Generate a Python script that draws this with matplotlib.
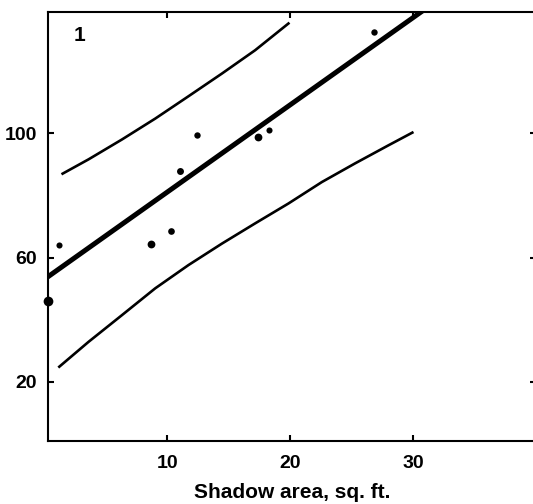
import matplotlib
matplotlib.use("Agg")
import matplotlib.pyplot as plt

plt.rcParams['font.family'] = ['Liberation Sans', 'DejaVu Sans']

# observed points (shadow area, value)
pts_x = [1.2, 8.7, 10.3, 11.0, 12.4, 17.4, 18.3, 26.8]
pts_y = [64.0, 64.3, 68.5, 87.8, 99.4, 98.7, 101.0, 132.5]
pts_size = [4.4, 5.6, 4.8, 5.0, 4.6, 5.6, 4.4, 4.6]

# large dot on the y axis
big_x = [0.3]
big_y = [46.0]

# fitted line (thick)
fit_x = [0.0, 31.0]
fit_y = [53.0, 140.0]

# upper and lower limit curves
upper_x = [1.49, 3.60, 6.32, 9.02, 11.73, 14.45, 17.15, 19.86]
upper_y = [87.0, 91.6, 98.0, 104.7, 111.9, 119.2, 126.7, 135.3]
lower_x = [1.22, 3.60, 6.32, 9.02, 11.73, 14.45, 17.15, 19.86,
           22.58, 25.28, 27.99, 29.94]
lower_y = [24.9, 32.9, 41.5, 50.1, 57.6, 64.5, 71.0, 77.4,
           84.3, 90.3, 96.1, 100.2]

x_ticks = [10, 20, 30]
y_ticks = [20, 60, 100]

fig = plt.figure(figsize=(5.33, 5.04), dpi=100)
ax = fig.add_axes([48 / 533, 63 / 504, 488 / 533, 429 / 504])

ax.plot(fit_x, fit_y, color='black', lw=3.6, solid_capstyle='butt')
ax.plot(upper_x, upper_y, color='black', lw=1.9, solid_joinstyle='round')
ax.plot(lower_x, lower_y, color='black', lw=1.9, solid_joinstyle='round')
for x, y, s in zip(pts_x, pts_y, pts_size):
    ax.plot(x, y, 'o', color='black', ms=s, mec='none')
ax.plot(big_x, big_y, 'o', color='black', ms=7, mec='none', clip_on=False)

ax.text(2.9, 131.5, '1', fontsize=15, fontweight='bold', ha='center', va='center')

ax.set_xlim(0.3, 40)
ax.set_ylim(1, 139)
ax.set_xticks(x_ticks)
ax.set_yticks(y_ticks)
ax.tick_params(direction='in', length=4, width=1.5, labelsize=14,
               top=True, right=True)
ax.tick_params(axis='x', pad=10)
ax.tick_params(axis='y', pad=8)
for lab in ax.get_xticklabels() + ax.get_yticklabels():
    lab.set_fontweight('bold')
for sp in ax.spines.values():
    sp.set_linewidth(1.5)
ax.spines['right'].set_visible(False)

ax.set_xlabel('Shadow area, sq. ft.', fontsize=15, fontweight='bold', labelpad=8)

fig.savefig('out.png', dpi=100)
